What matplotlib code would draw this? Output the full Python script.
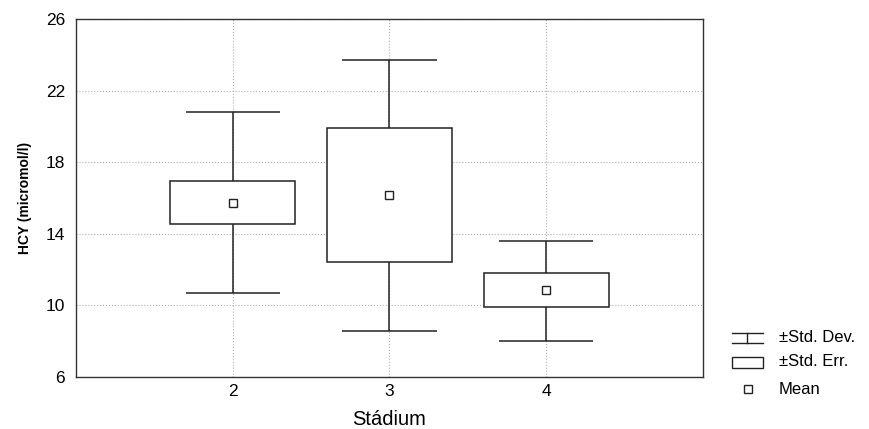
import matplotlib
matplotlib.use("Agg")
from matplotlib import pyplot as plt
from matplotlib.patches import Rectangle
import numpy as np

plt.rcParams['font.family'] = ['Liberation Sans', 'DejaVu Sans']

# data
stadium = [2, 3, 4]
mean = [15.72, 16.17, 10.86]
se_low = [14.55, 12.42, 9.91]
se_high = [16.95, 19.93, 11.81]
sd_low = [10.68, 8.57, 8.01]
sd_high = [20.79, 23.69, 13.60]

yticks = [6, 10, 14, 18, 22, 26]
xticks = [2, 3, 4]

box_w = 0.8
cap_w = 0.6
col = '#222222'

fig = plt.figure(figsize=(8.7, 4.29), dpi=100)
ax = fig.add_axes([76 / 870, 1 - 377 / 429, (703 - 76) / 870, (377 - 19) / 429])

ax.grid(True, color='#b0b0b0', linestyle=':', linewidth=0.8)
ax.set_axisbelow(True)

for x, m, bl, bh, wl, wh in zip(stadium, mean, se_low, se_high, sd_low, sd_high):
    ax.vlines(x, wl, bl, color=col, lw=1.1, zorder=2)
    ax.vlines(x, bh, wh, color=col, lw=1.1, zorder=2)
    ax.hlines([wl, wh], x - cap_w / 2, x + cap_w / 2, color=col, lw=1.1, zorder=2)
    ax.add_patch(Rectangle((x - box_w / 2, bl), box_w, bh - bl, facecolor='white',
                           edgecolor=col, lw=1.1, zorder=3))
ax.plot(stadium, mean, 's', ms=6, mfc='white', mec=col, mew=1.0, ls='none', zorder=4)

ax.set_xlim(1, 5)
ax.set_ylim(6, 26)
ax.set_xticks(xticks)
ax.set_yticks(yticks)
ax.tick_params(length=0, labelsize=12.5)
ax.tick_params(axis='x', pad=5)
ax.tick_params(axis='y', pad=8)
for s in ax.spines.values():
    s.set_color('#333333')
    s.set_linewidth(1.0)
ax.set_xlabel('Stádium', fontsize=14.5, labelpad=8)
ax.set_ylabel('HCY (micromol/l)', fontsize=10, fontweight='bold', labelpad=10)

# legend drawn in pixel coordinates
lax = fig.add_axes([0, 0, 1, 1])
lax.set_xlim(0, 870)
lax.set_ylim(429, 0)
lax.axis('off')
lax.plot([732, 763], [333, 333], color=col, lw=1.0)
lax.plot([732, 763], [343, 343], color=col, lw=1.0)
lax.plot([747.5, 747.5], [333, 343], color=col, lw=1.0)
lax.add_patch(Rectangle((732, 357), 31, 11, facecolor='white', edgecolor=col, lw=1.0))
lax.plot([748], [389], 's', ms=5.5, mfc='white', mec=col, mew=1.0)
lax.text(779, 338, '±Std. Dev.', fontsize=12, va='center', ha='left')
lax.text(779, 362, '±Std. Err.', fontsize=12, va='center', ha='left')
lax.text(779, 389, 'Mean', fontsize=12, va='center', ha='left')

fig.savefig('out.png', dpi=100)
